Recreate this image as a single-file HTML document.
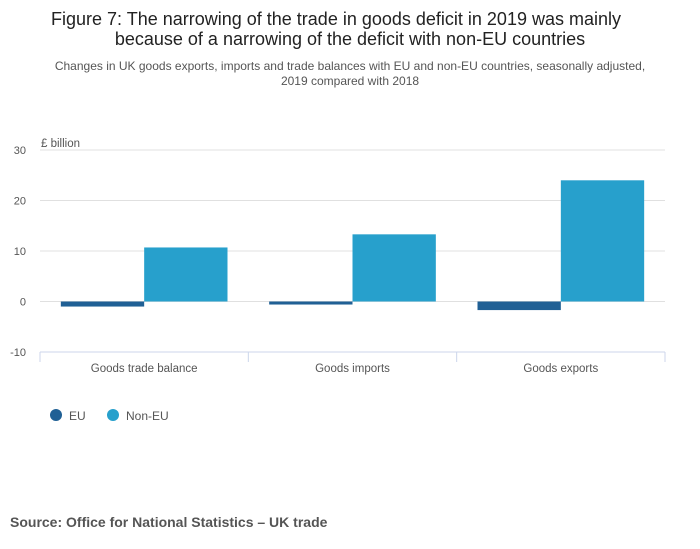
<!DOCTYPE html>
<html><head><meta charset="utf-8"><style>
body{margin:0;width:700px;height:549px;background:#fff;font-family:"Liberation Sans",sans-serif;overflow:hidden}
</style></head><body>
<svg width="700" height="549" style="position:absolute;left:0;top:0">
<text x="336" y="25" text-anchor="middle" font-size="18" fill="#222">Figure 7: The narrowing of the trade in goods deficit in 2019 was mainly</text>
<text x="350" y="45" text-anchor="middle" font-size="18" fill="#222">because of a narrowing of the deficit with non-EU countries</text>
<text x="350" y="70" text-anchor="middle" font-size="12" fill="#555">Changes in UK goods exports, imports and trade balances with EU and non-EU countries, seasonally adjusted,</text>
<text x="350" y="85" text-anchor="middle" font-size="12" fill="#555">2019 compared with 2018</text>
<text x="41" y="147" font-size="11.5" fill="#555">£ billion</text>
<g id="grid"></g><g id="bars"></g><g id="xaxis"></g>
<circle cx="56" cy="415" r="6" fill="#206095"/>
<text x="69" y="420" font-size="12" fill="#555">EU</text>
<circle cx="113" cy="415" r="6" fill="#27a0cc"/>
<text x="126" y="420" font-size="12" fill="#555">Non-EU</text>
<text x="10" y="527" font-size="14" font-weight="bold" fill="#555">Source: Office for National Statistics – UK trade</text>
</svg>
<script>
const categories=["Goods trade balance","Goods imports","Goods exports"];
const euValues=[-1.0,-0.6,-1.7];
const nonEuValues=[10.7,13.3,24.0];
const yTicks=[30,20,10,0,-10];
const NS="http://www.w3.org/2000/svg";
const x0=40,x1=665,yTop=150,yBot=352,vMax=30,vMin=-10;
const y=v=>yTop+(vMax-v)/(vMax-vMin)*(yBot-yTop);
const bw=(x1-x0)/categories.length;
function mk(t,a,p){const e=document.createElementNS(NS,t);for(const k in a)e.setAttribute(k,a[k]);p.appendChild(e);return e;}
const g=document.getElementById('grid'),b=document.getElementById('bars'),xa=document.getElementById('xaxis');
yTicks.forEach(v=>{
 if(v!==vMin){const l=mk('line',{x1:x0,x2:x1,y1:y(v),y2:y(v),stroke:'#e0e0e0'},g);
 
 }
 const t=mk('text',{x:26,y:y(v)+4,'text-anchor':'end','font-size':11,fill:'#555'},g);t.textContent=v;
 
 
});
const ax=mk('line',{x1:x0,x2:x1,y1:yBot,y2:yBot,stroke:'#ccd6eb'},xa);


for(let i=0;i<=categories.length;i++){const tk=mk('line',{x1:x0+i*bw,x2:x0+i*bw,y1:yBot,y2:yBot+10,stroke:'#ccd6eb'},xa);
 
 }
categories.forEach((c,i)=>{
 const cx=x0+i*bw+bw/2,w=bw*0.4;
 [[euValues[i],cx-w,'#206095','bar-eu'],[nonEuValues[i],cx,'#27a0cc','bar-non-eu']].forEach(([v,bx,col,n])=>{
  const r=mk('rect',{x:bx,y:Math.min(y(v),y(0)),width:w,height:Math.abs(y(v)-y(0)),fill:col},b);
  
  
 });
 const t=mk('text',{x:cx,y:372,'text-anchor':'middle','font-size':11.5,fill:'#555'},xa);t.textContent=c;
 
 
});
</script>
</body></html>
